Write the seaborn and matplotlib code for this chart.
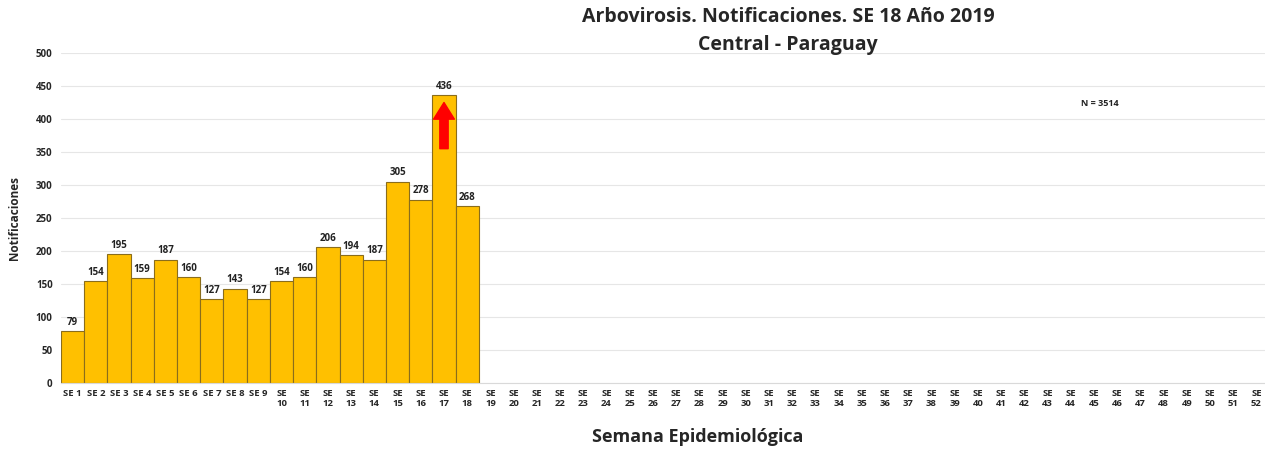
import numpy as np
import pandas as pd
import matplotlib
matplotlib.use("Agg")
import matplotlib.pyplot as plt
import seaborn as sns

# Data
weeks = [f"SE {i}" for i in range(1, 53)]
tick_labels = [f"SE {i}" if i < 10 else f"SE\n{i}" for i in range(1, 53)]
notifications = [79, 154, 195, 159, 187, 160, 127, 143, 127, 154,
                 160, 206, 194, 187, 305, 278, 436, 268]
values = notifications + [np.nan] * (52 - len(notifications))
total_n = 3514
arrow_week = "SE 17"
arrow_range = (355, 425)

df = pd.DataFrame({"semana": weeks, "notificaciones": values})

sns.set_style("whitegrid")
plt.rcParams['font.family'] = ['Open Sans', 'DejaVu Sans']

fig = plt.figure(figsize=(12.65, 4.5), dpi=100)
ax = fig.add_axes([61 / 1265, 67 / 450, 1207 / 1265, 330 / 450])

sns.barplot(data=df, x="semana", y="notificaciones", color="#FFC000",
            saturation=1, width=1.0, edgecolor="#8a6d1c", linewidth=0.8, ax=ax)

# value labels
for i, v in enumerate(values):
    if not np.isnan(v):
        ax.text(i, v + 5, f"{int(v)}", ha="center", va="bottom",
                fontsize=7, fontweight="bold", color="#222222")

# red arrow
xi = weeks.index(arrow_week)
ax.annotate("", xy=(xi, arrow_range[1]), xytext=(xi, arrow_range[0]),
            arrowprops=dict(facecolor="red", edgecolor="red", width=6,
                            headwidth=15, headlength=12))

ax.set_ylim(0, 500)
ax.set_xlim(-0.5, 51.5)
ax.set_yticks(range(0, 501, 50))
ax.set_xticks(range(52))
ax.set_xticklabels(tick_labels, fontsize=6.8, fontweight="bold", linespacing=1.25)
ax.tick_params(axis="y", labelsize=7, pad=6, length=0)
for lbl in ax.get_yticklabels():
    lbl.set_fontweight("bold")
ax.tick_params(axis="x", pad=4, length=0)
ax.grid(axis="x", visible=False)
ax.grid(axis="y", color="#e6e6e6", linewidth=0.8)
ax.set_axisbelow(True)
for s in ["top", "right", "left"]:
    ax.spines[s].set_visible(False)
ax.spines["bottom"].set_color("#d9d9d9")

ax.set_xlabel("Semana Epidemiológica", fontsize=13, fontweight="bold", va="center")
ax.set_ylabel("Notificaciones", fontsize=8.5, fontweight="bold")
ax.xaxis.set_label_coords((698 - 61) / 1207, -(437 - 383) / 330)
ax.yaxis.set_label_coords(-0.033, 0.5)

ax.text((1081 - 61) / 1207, 0.848, f"N = {total_n}", transform=ax.transAxes,
        fontsize=6.5, fontweight="bold", color="#222222", va="center")

fig.text(788 / 1265, 1 - 17 / 450, "Arbovirosis. Notificaciones. SE 18 Año 2019",
         ha="center", va="center", fontsize=14, fontweight="bold")
fig.text(788 / 1265, 1 - 45 / 450, "Central - Paraguay",
         ha="center", va="center", fontsize=14, fontweight="bold")

fig.savefig("out.png", dpi=100)
